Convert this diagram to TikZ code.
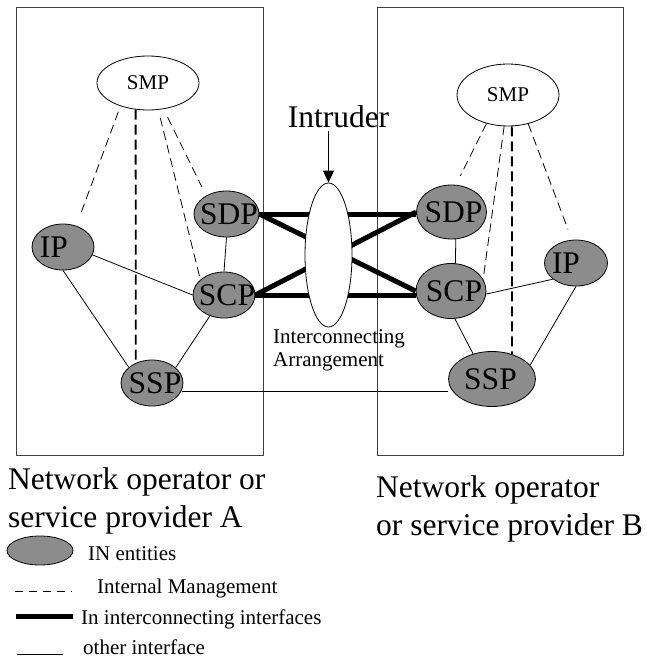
\documentclass[tikz,border=0pt]{standalone}
\usepackage{fontspec}
\setmainfont{Liberation Serif}
\usetikzlibrary{shapes.geometric,arrows.meta}
\definecolor{entgray}{RGB}{140,140,140}
\definecolor{boxgray}{RGB}{64,64,64}
\begin{document}
\begin{tikzpicture}[x=1pt,y=-1pt,
  ent/.style={ellipse, draw, fill=entgray, inner sep=0pt, line width=0.8pt},
  plainell/.style={ellipse, draw, fill=white, inner sep=0pt, line width=0.8pt},
  big/.style={font=\fontsize{31.5}{36}\selectfont},
  small/.style={font=\fontsize{21}{24}\selectfont},
  txt/.style={anchor=base west, inner sep=0pt},
  mgmt/.style={dash pattern=on 9pt off 5pt, line width=0.8pt},
  mgmtthick/.style={dash pattern=on 10pt off 5pt, line width=1.8pt},
  interconn/.style={line width=5pt},
  other/.style={line width=0.8pt},
  frame/.style={draw=boxgray, line width=1.3pt, inner sep=0pt, anchor=north west}]
\useasboundingbox (0,0) rectangle (647,659);
% frames
\node[frame, minimum width=247, minimum height=448] (boxA) at (16,7) {};
\node[frame, minimum width=246, minimum height=448] (boxB) at (377,7) {};
% management points
\node[plainell, minimum width=102, minimum height=54, small] (smpA) at (148,83) {SMP};
\node[plainell, minimum width=102, minimum height=62, small] (smpB) at (508,95) {SMP};
% IN entities A
\node[ent, minimum width=65, minimum height=46, label={[big, xshift=2.5pt]center:SDP}] (sdpA) at (226.5,214) {};
\node[ent, minimum width=62, minimum height=46, label={[big, xshift=-9pt]center:IP}] (ipA) at (63,247) {};
\node[ent, minimum width=62, minimum height=46, label={[big, xshift=3pt]center:SCP}] (scpA) at (224,295) {};
\node[ent, minimum width=62, minimum height=46, label={[big, xshift=3pt]center:SSP}] (sspA) at (152,383) {};
% IN entities B
\node[ent, minimum width=70, minimum height=54, label={[big, xshift=2pt]center:SDP}] (sdpB) at (451.5,212) {};
\node[ent, minimum width=70, minimum height=55, label={[big, xshift=3pt]center:SCP}] (scpB) at (451,291) {};
\node[ent, minimum width=63, minimum height=46, label={[big, xshift=-10pt]center:IP}] (ipB) at (576,263) {};
\node[ent, minimum width=87, minimum height=55, label={[big, xshift=-1.5pt]center:SSP}] (sspB) at (492,379) {};
% internal management A
\draw[mgmt, shorten <=6pt, shorten >=10pt] (smpA.220) -- (ipA.58);
\draw[mgmt, shorten <=9pt, shorten >=10pt] (smpA.301) -- (sdpA.138);
\draw[mgmt, shorten <=8pt, shorten >=2pt] (smpA.291) -- (scpA.147);
\draw[mgmtthick] (smpA.245) -- (sspA.129);
% internal management B
\draw[mgmt, shorten >=10pt] (smpB.233) -- (sdpB.81);
\draw[mgmt] (smpB.263) -- (scpB.20);
\draw[mgmtthick] (smpB.277) -- (sspB.51);
\draw[mgmt, shorten >=11pt] (smpB.305) -- (ipB.100);
% other interfaces
\draw[other] (ipA.345) -- (scpA.180);
\draw[other] (ipA.south) -- (sspA.146);
\draw[other] (sdpA.south) -- (scpA.north);
\draw[other] (scpA.236) -- (sspA.33);
\draw[other] (sspA.-15) -- (sspA.-15 -| sspB.west);
\draw[other] (sdpB.279) -- (scpB.81);
\draw[other] (scpB.355) -- (ipB.215);
\draw[other] (scpB.278) -- (sspB.127);
\draw[other] (ipB.south) -- (sspB.20);
% interconnecting interfaces
\draw[interconn] (sdpA.east) -- (sdpA.east -| sdpB.west);
\draw[interconn] (scpA.east) -- (scpA.east -| scpB.west);
\draw[interconn] (sdpA.east) -- (scpB.west);
\draw[interconn] (scpA.east) -- (sdpB.west);
% intruder
\node[plainell, minimum width=47, minimum height=144] (intr) at (328.5,255) {};
\node[big, anchor=base] (intrlbl) at (338.5,127) {Intruder};
\draw[-{Triangle[length=12pt,width=11pt]}, line width=0.9pt] (intrlbl.south -| intr.north) -- (intr.north);
\node[small, txt] (ica) at (273,343) {Interconnecting};
\node[small, txt] (icb) at (273,366) {Arrangement};
% operator labels
\node[big, txt] (la1) at (8,489) {Network operator or};
\node[big, txt] (la2) at (8,527) {service provider A};
\node[big, txt] (lb1) at (376,497) {Network operator};
\node[big, txt] (lb2) at (376,535) {or service provider B};
% legend
\node[ent, minimum width=66, minimum height=29] (legent) at (40,550.5) {};
\node[small, txt] (legenttxt) at (88,560) {IN entities};
\coordinate (dm1) at (15,591);
\coordinate (dm2) at (72,591);
\draw[mgmt, dash pattern=on 8pt off 6pt] (dm1) -- (dm2);
\node[small, txt] (legmgmt) at (97,593) {Internal Management};
\coordinate (th1) at (16,616);
\coordinate (th2) at (73,616);
\draw[interconn] (th1) -- (th2);
\node[small, txt] (legic) at (81,624) {In interconnecting interfaces};
\coordinate (tn1) at (17,654);
\coordinate (tn2) at (63,654);
\draw[other] (tn1) -- (tn2);
\node[small, txt] (legother) at (83,654) {other interface};
\end{tikzpicture}
\end{document}
